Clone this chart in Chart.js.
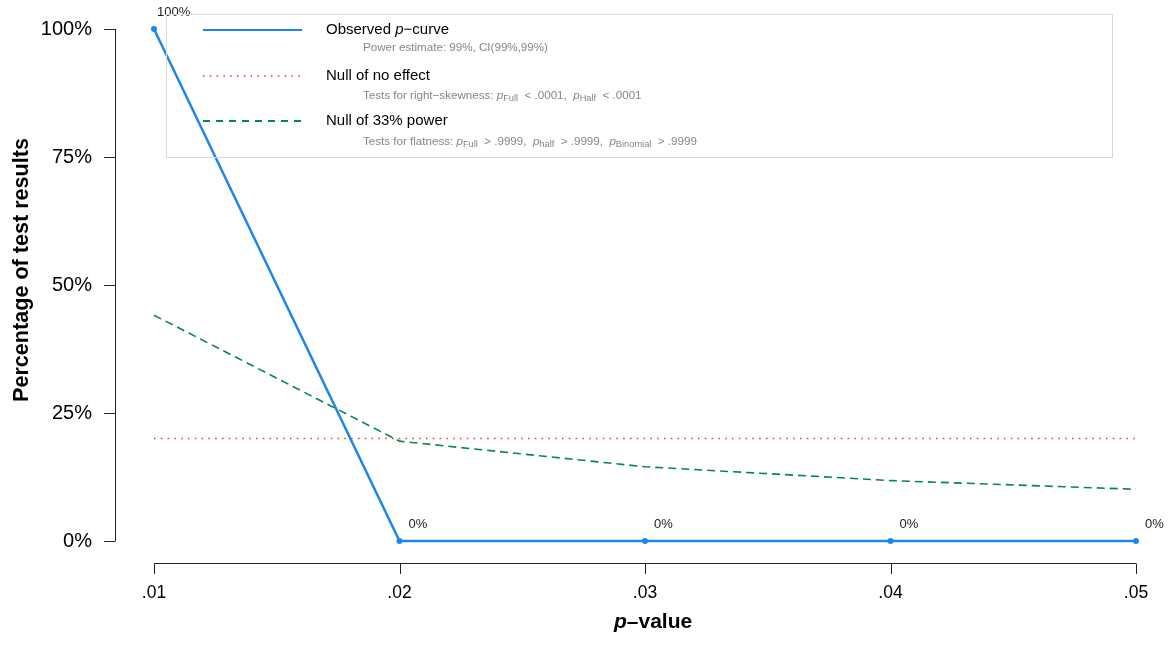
<!DOCTYPE html>
<html>
<head>
<meta charset="utf-8">
<script src="https://cdn.jsdelivr.net/npm/chart.js@4.4.1/dist/chart.umd.min.js"></script>
<style>
  html, body { margin: 0; padding: 0; background: #fff; }
  #wrap { width: 1169px; height: 645px; position: relative; }
</style>
</head>
<body>
<div id="wrap"><canvas id="c"></canvas></div>
<script>
// p-curve: share of significant results falling in each p-value bin
const pValues = [0.01, 0.02, 0.03, 0.04, 0.05];
const xTickLabels = ['.01', '.02', '.03', '.04', '.05'];
const observedCurve = [100, 0, 0, 0, 0];
const nullNoEffect = [20, 20, 20, 20, 20];
const null33Power = [44.1, 19.5, 14.5, 11.8, 10.1];
const yTickValues = [0, 25, 50, 75, 100];
const yTickLabels = ['0%', '25%', '50%', '75%', '100%'];

const legendRows = [
  { label: [{ t: 'Observed ' }, { t: 'p', it: true }, { t: '\u2212curve' }],
    note: [{ t: 'Power estimate: 99%, CI(99%,99%)' }] },
  { label: [{ t: 'Null of no effect' }],
    note: [{ t: 'Tests for right\u2212skewness: ' }, { t: 'p', it: true }, { t: 'Full', sub: true },
           { t: '  < .0001,  ' }, { t: 'p', it: true }, { t: 'Half', sub: true }, { t: '  < .0001' }] },
  { label: [{ t: 'Null of 33% power' }],
    note: [{ t: 'Tests for flatness: ' }, { t: 'p', it: true }, { t: 'Full', sub: true },
           { t: '  > .9999,  ' }, { t: 'p', it: true }, { t: 'half', sub: true },
           { t: '  > .9999,  ' }, { t: 'p', it: true }, { t: 'Binomial', sub: true }, { t: '  > .9999' }] }
];

const FONT = '"Liberation Sans", Arial, Helvetica, sans-serif';
const BLUE = '#1f86e6';
const RED = '#e8333b';
const GREEN = '#008a45';

const toPoints = arr => arr.map((v, i) => ({ x: pValues[i], y: v }));

function drawRich(ctx, x, y, segs, size, color, bold) {
  ctx.save();
  ctx.fillStyle = color;
  ctx.textBaseline = 'middle';
  ctx.textAlign = 'left';
  let cx = x;
  for (const s of segs) {
    const fs = s.sub ? size * 0.8 : size;
    ctx.font = (s.it ? 'italic ' : '') + (bold ? 'bold ' : '') + fs + 'px ' + FONT;
    ctx.fillText(s.t, cx, s.sub ? y + size * 0.22 : y);
    cx += ctx.measureText(s.t).width;
  }
  ctx.restore();
  return cx;
}

const pcurvePlugin = {
  id: 'pcurveDecor',
  afterDatasetsDraw(chart) {
    const { ctx, chartArea, scales } = chart;
    const xs = scales.x, ys = scales.y;
    ctx.save();

    // Y axis, set off to the left of the plotting region
    const axX = chartArea.left - 39;
    ctx.strokeStyle = '#222';
    ctx.lineWidth = 1;
    ctx.beginPath();
    ctx.moveTo(axX + 0.5, ys.getPixelForValue(yTickValues[0]));
    ctx.lineTo(axX + 0.5, ys.getPixelForValue(yTickValues[yTickValues.length - 1]));
    for (const v of yTickValues) {
      const py = Math.round(ys.getPixelForValue(v)) + 0.5;
      ctx.moveTo(axX + 0.5, py);
      ctx.lineTo(axX - 11, py);
    }
    ctx.stroke();

    // X axis, set off below the plotting region
    const axY = chartArea.bottom + 22;
    ctx.beginPath();
    ctx.moveTo(xs.getPixelForValue(pValues[0]), axY + 0.5);
    ctx.lineTo(xs.getPixelForValue(pValues[pValues.length - 1]), axY + 0.5);
    for (const v of pValues) {
      const px = Math.round(xs.getPixelForValue(v)) + 0.5;
      ctx.moveTo(px, axY + 0.5);
      ctx.lineTo(px, axY + 11);
    }
    ctx.stroke();

    // Axis titles
    drawRich(ctx, 614, 622, [{ t: 'p', it: true }, { t: '\u2013value' }], 21, '#000', true);
    ctx.save();
    ctx.translate(22, 270);
    ctx.rotate(-Math.PI / 2);
    ctx.font = 'bold 21.6px ' + FONT;
    ctx.fillStyle = '#000';
    ctx.textAlign = 'center';
    ctx.textBaseline = 'middle';
    ctx.fillText('Percentage of test results', 0, 0);
    ctx.restore();

    // Value labels above the observed curve
    ctx.font = '13px ' + FONT;
    ctx.fillStyle = '#222';
    ctx.textAlign = 'left';
    ctx.textBaseline = 'middle';
    observedCurve.forEach((v, i) => {
      const px = xs.getPixelForValue(pValues[i]);
      const py = ys.getPixelForValue(v);
      ctx.fillText(v + '%', px + (i === 0 ? 3 : 9), py - 17);
    });

    // Legend box
    ctx.strokeStyle = '#d9d9d9';
    ctx.lineWidth = 1;
    ctx.strokeRect(166.5, 14.5, 946, 143);
    const rowY = [30, 76, 121];
    const noteY = [48, 96, 142];
    const styles = [
      { color: BLUE, width: 2, dash: [] },
      { color: RED, width: 1.5, dash: [1.5, 5.3] },
      { color: GREEN, width: 1.8, dash: [7, 6] }
    ];
    legendRows.forEach((row, i) => {
      const st = styles[i];
      ctx.save();
      ctx.strokeStyle = st.color;
      ctx.lineWidth = st.width;
      ctx.setLineDash(st.dash);
      ctx.beginPath();
      ctx.moveTo(203, rowY[i]);
      ctx.lineTo(302, rowY[i]);
      ctx.stroke();
      ctx.restore();
      drawRich(ctx, 326, rowY[i], row.label, 15, '#000', false);
      drawRich(ctx, 363, noteY[i], row.note, 11.6, '#858585', false);
    });

    ctx.restore();
  }
};

new Chart(document.getElementById('c'), {
  type: 'line',
  data: {
    datasets: [
      {
        label: 'Observed p-curve',
        data: toPoints(observedCurve),
        borderColor: BLUE,
        backgroundColor: BLUE,
        borderWidth: 2.5,
        pointRadius: 3,
        pointBorderWidth: 0,
        pointBackgroundColor: BLUE,
        tension: 0,
        clip: false
      },
      {
        label: 'Null of 33% power',
        data: toPoints(null33Power),
        borderColor: GREEN,
        borderWidth: 1.6,
        borderDash: [8, 5],
        pointRadius: 0,
        tension: 0,
        clip: false
      },
      {
        label: 'Null of no effect',
        data: toPoints(nullNoEffect),
        borderColor: RED,
        borderWidth: 1.5,
        borderDash: [1.5, 5.3],
        pointRadius: 0,
        tension: 0,
        clip: false
      }
    ]
  },
  options: {
    responsive: true,
    maintainAspectRatio: false,
    animation: false,
    layout: { padding: { top: 29, right: 33, left: 0, bottom: 0 } },
    plugins: { legend: { display: false }, tooltip: { enabled: false } },
    scales: {
      x: {
        type: 'linear',
        min: pValues[0],
        max: pValues[pValues.length - 1],
        grid: { display: true, drawOnChartArea: false, tickLength: 42, tickColor: 'rgba(0,0,0,0)' },
        border: { display: false },
        afterBuildTicks: s => { s.ticks = pValues.map(v => ({ value: v })); },
        afterFit: s => { s.height = 104; },
        ticks: {
          autoSkip: false,
          maxRotation: 0,
          padding: 0,
          color: '#000',
          font: { family: FONT, size: 17.5 },
          callback: (v) => xTickLabels[pValues.indexOf(v)]
        }
      },
      y: {
        min: 0,
        max: 100,
        grid: { display: true, drawOnChartArea: false, tickLength: 62, tickColor: 'rgba(0,0,0,0)' },
        border: { display: false },
        afterBuildTicks: s => { s.ticks = yTickValues.map(v => ({ value: v })); },
        afterFit: s => { s.width = 154; },
        ticks: {
          padding: 0,
          color: '#000',
          font: { family: FONT, size: 20 },
          callback: (v) => yTickLabels[yTickValues.indexOf(v)]
        }
      }
    }
  },
  plugins: [pcurvePlugin]
});
</script>
</body>
</html>
